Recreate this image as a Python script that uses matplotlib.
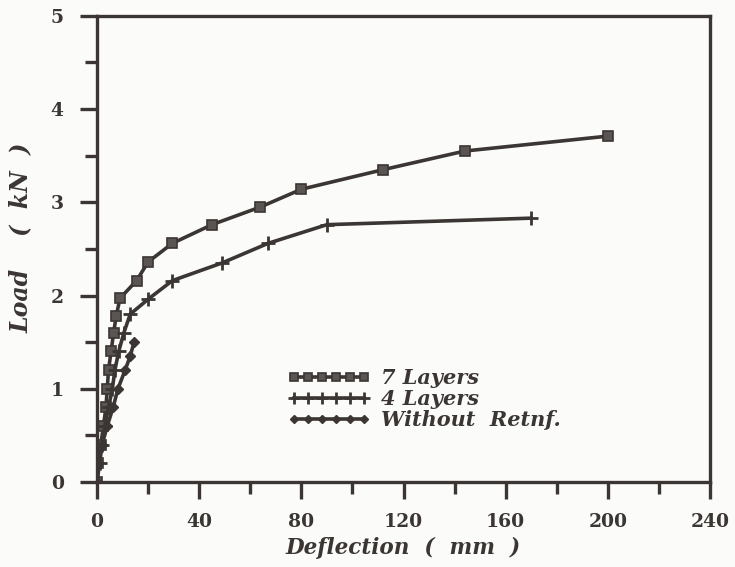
import matplotlib
matplotlib.use("Agg")
import matplotlib.pyplot as plt
from matplotlib.ticker import MultipleLocator

# Data (deflection in mm, load in kN)
x7 = [0, 0.5, 1.5, 2.5, 3.5, 4.0, 4.5, 5.5, 6.5, 7.5, 9, 15.5, 20, 29.5, 45, 64, 80, 112, 144, 200]
y7 = [0, 0.2, 0.4, 0.6, 0.8, 1.0, 1.2, 1.4, 1.6, 1.78, 1.97, 2.16, 2.36, 2.56, 2.76, 2.95, 3.14, 3.35, 3.55, 3.71]

x4 = [0, 1, 2, 3, 4.5, 6, 7, 8.5, 10.5, 13, 20, 29.5, 49, 67, 90, 170]
y4 = [0, 0.2, 0.4, 0.6, 0.8, 1.0, 1.2, 1.4, 1.6, 1.8, 1.96, 2.16, 2.35, 2.56, 2.76, 2.83]

x0 = [0, 0.5, 2, 4, 6.3, 8.2, 11, 13, 14.5]
y0 = [0, 0.2, 0.4, 0.6, 0.8, 1.0, 1.2, 1.35, 1.5]

labels = ["7 Layers", "4 Layers", "Without  Retnf."]
xticks = [0, 40, 80, 120, 160, 200, 240]
yticks = [0, 1, 2, 3, 4, 5]

ink = "#3b3633"
plt.rcParams['font.family'] = ['DejaVu Serif']

fig = plt.figure(figsize=(7.35, 5.67), dpi=100)
fig.patch.set_facecolor("#fbfbfa")
ax = fig.add_axes([0.132, 0.150, 0.834, 0.822])
ax.set_facecolor("#fbfbfa")

ax.plot(x7, y7, color=ink, lw=2.6, marker='s', ms=6.5, mfc="#5a5552", mec=ink, mew=1.2, label=labels[0])
ax.plot(x4, y4, color=ink, lw=2.6, marker='+', ms=10, mew=2.0, label=labels[1])
ax.plot(x0, y0, color=ink, lw=2.6, marker='D', ms=5.5, mfc=ink, mec=ink, label=labels[2])

ax.set_xlim(0, 240)
ax.set_ylim(0, 5)
ax.set_xticks(xticks)
ax.set_yticks(yticks)
ax.xaxis.set_minor_locator(MultipleLocator(20))
ax.yaxis.set_minor_locator(MultipleLocator(0.5))

for s in ax.spines.values():
    s.set_color(ink)
    s.set_linewidth(2.4)

ax.tick_params(axis='both', which='both', direction='out', color=ink, width=2.4,
               labelcolor=ink, labelsize=13.5, top=False, right=False)
ax.tick_params(axis='y', which='major', length=12, pad=12)
ax.tick_params(axis='y', which='minor', length=9)
ax.tick_params(axis='x', which='major', length=12, pad=10)
ax.tick_params(axis='x', which='minor', length=8.5)
for lab in ax.get_xticklabels() + ax.get_yticklabels():
    lab.set_fontweight('bold')

ax.set_xlabel("Deflection  (  mm  )", fontsize=15.5, fontweight='bold', style='italic', color=ink)
ax.set_ylabel("Load    (  kN  )", fontsize=17, fontweight='bold', style='italic', color=ink)
ax.xaxis.set_label_coords(0.5, -0.142)
ax.yaxis.set_label_coords(-0.124, 0.524)
ax.xaxis.label.set_va('center')
ax.yaxis.label.set_va('center')

leg = ax.legend(loc='upper left', bbox_to_anchor=(0.28, 0.284), frameon=False, numpoints=6,
                handlelength=4.0, handletextpad=0.5, labelspacing=0.05, markerscale=0.8,
                prop={'size': 15, 'weight': 'bold', 'style': 'italic', 'family': 'DejaVu Serif'})
for t in leg.get_texts():
    t.set_color(ink)

fig.savefig("out.png", dpi=100, facecolor=fig.get_facecolor())
